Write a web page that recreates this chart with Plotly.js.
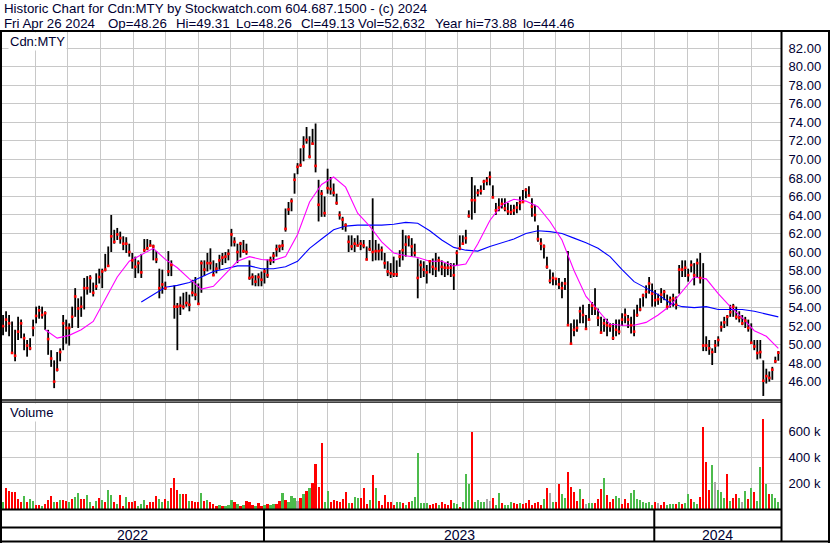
<!DOCTYPE html>
<html><head><meta charset="utf-8">
<script src="https://cdn.plot.ly/plotly-3.0.1.min.js"></script>
<style>html,body{margin:0;padding:0;background:#fff;}#chart{width:830px;height:543px;}</style>
</head><body><div id="chart"></div>
<script>
// ---------- data ----------
const firstBarDate = [2022, 5, 2];
const lastBarDate = [2024, 4, 26];
const high = [53.2,53.6,53.2,52.5,51.6,53.0,52.7,51.2,50.5,50.7,52.7,54.1,54.2,54.1,53.6,51.6,49.4,48.3,49.2,49.6,
53.2,52.7,52.3,54.1,56.1,55.0,55.2,57.2,57.4,57.5,56.7,57.7,58.2,58.2,59.8,60.6,64.0,62.4,62.6,62.2,
61.7,61.6,60.9,59.9,59.5,59.1,
59.8,61.4,61.4,61.3,60.8,60.1,58.2,58.1,56.8,60.1,59.1,56.4,54.5,55.2,55.6,55.7,55.4,57.0,57.3,56.6,
59.1,59.1,59.9,60.4,59.1,58.8,59.7,59.9,60.0,60.3,62.5,61.6,60.9,61.1,61.3,60.9,59.1,57.7,57.5,57.7,57.9,58.2,
59.2,59.5,60.0,60.8,60.8,61.3,64.7,65.4,65.8,68.5,69.6,71.2,72.5,73.5,72.5,73.3,73.88,67.8,66.7,66.0,
69.0,68.1,67.4,66.3,64.4,63.8,63.1,61.8,61.8,61.5,61.8,61.3,61.3,60.6,61.3,65.8,61.3,60.9,60.6,59.9,59.0,58.8,
59.5,59.1,60.2,62.4,61.8,61.8,61.5,60.9,59.3,59.1,59.0,58.6,59.1,59.3,59.9,59.5,59.1,58.8,59.0,58.8,
58.8,60.2,61.8,61.8,62.4,64.5,68.1,67.2,66.8,67.2,67.8,68.1,68.7,67.2,65.3,65.8,65.8,65.8,65.3,65.1,65.1,65.4,66.0,
66.7,66.9,67.1,65.8,65.1,62.9,61.5,60.8,59.5,58.1,57.8,57.2,57.2,56.8,57.2,60.1,52.3,52.7,52.7,54.1,
54.3,53.2,54.4,54.6,56.1,53.9,53.0,52.8,52.8,52.3,52.3,52.7,52.7,53.4,53.9,53.2,53.0,53.8,54.3,55.0,55.5,56.4,57.3,
56.6,55.9,55.5,56.1,55.9,55.4,55.2,55.5,55.2,58.6,59.1,59.1,58.2,59.1,58.8,59.3,59.9,58.8,50.9,50.5,
49.6,50.5,50.9,52.5,53.0,53.2,54.3,54.4,54.1,53.6,53.2,53.0,52.7,52.3,50.5,50.5,50.5,48.3,47.4,47.1,47.6,48.7,49.31];
const low = [51.0,51.4,50.9,49.1,48.2,50.5,50.7,49.4,48.7,49.4,50.9,52.3,52.8,52.8,51.6,48.9,47.6,45.3,47.1,48.2,
49.4,50.1,49.9,51.8,53.0,51.8,53.0,53.8,55.4,55.6,55.2,55.9,56.6,56.1,57.9,58.4,60.0,60.9,61.3,60.9,
60.2,59.9,59.5,58.2,57.2,57.7,
57.2,60.0,60.2,60.6,59.1,58.8,55.0,55.5,55.9,57.4,57.4,52.8,49.4,53.2,53.8,54.1,53.6,55.2,54.8,54.3,
55.6,57.4,57.9,58.1,57.4,57.7,58.1,58.6,58.8,59.1,60.6,60.6,58.8,59.4,59.9,59.7,57.0,56.4,56.3,56.3,56.3,56.6,
57.2,58.6,58.8,59.5,60.0,60.2,62.2,64.0,64.4,66.3,68.4,69.2,69.8,71.7,70.1,71.6,68.6,63.3,63.8,63.8,
66.3,66.2,66.0,65.1,63.5,62.4,62.2,60.0,60.2,60.0,60.6,60.2,60.4,59.1,60.1,59.0,59.1,59.1,59.1,58.2,57.4,57.2,
57.3,57.3,58.4,59.1,59.5,60.6,59.5,59.5,55.0,57.2,57.3,56.6,57.7,57.5,57.3,57.9,57.5,57.3,57.5,57.3,
55.9,58.6,60.2,60.8,60.9,63.7,63.5,64.2,66.0,66.2,66.7,67.2,67.2,65.8,64.0,64.4,64.7,64.4,64.0,64.0,64.0,64.2,64.5,
65.3,65.8,66.0,63.8,63.3,61.1,60.2,59.3,58.2,56.6,56.4,56.4,56.0,55.0,55.9,52.0,50.0,50.9,51.4,52.3,
52.3,51.6,52.6,53.2,53.2,52.0,51.2,51.4,50.9,51.4,50.5,50.9,51.1,52.0,52.3,51.8,51.2,50.9,53.0,53.6,54.1,55.0,55.5,
54.1,54.1,54.3,54.5,54.8,53.8,54.0,54.1,53.8,55.5,57.3,57.3,56.8,57.8,56.4,57.2,56.6,49.3,49.3,48.9,
47.8,49.1,49.8,51.4,51.8,52.0,53.0,53.0,52.7,52.4,52.1,51.8,51.4,50.1,49.4,48.4,48.5,44.46,45.8,46.0,46.2,48.0,48.26];
const close = [52.0,52.7,52.3,49.1,48.8,51.4,52.3,50.7,49.9,49.6,51.8,53.1,53.7,53.2,53.4,50.6,48.5,46.0,47.3,49.2,
52.3,51.8,51.8,53.0,55.2,53.9,54.1,56.1,56.1,57.2,55.6,56.3,57.3,57.9,58.1,58.5,61.7,61.1,61.9,61.5,
60.9,60.9,60.0,59.1,58.4,58.8,
57.8,60.2,60.4,60.7,60.6,59.2,56.1,56.5,56.1,57.9,58.6,54.1,54.1,54.2,54.1,54.5,54.3,55.6,55.4,54.4,
58.8,58.1,58.8,58.8,57.5,58.2,59.1,59.4,59.5,59.8,61.9,61.1,60.0,60.9,60.1,60.0,57.2,57.3,56.8,57.3,57.0,57.9,
57.5,59.1,59.6,60.3,60.6,60.7,62.5,64.6,65.5,67.8,69.2,69.4,71.4,72.1,70.3,71.7,69.3,65.1,66.3,64.2,
66.9,66.8,66.4,65.3,64.0,63.5,62.9,61.1,60.6,60.9,60.7,60.9,60.7,59.2,60.3,60.0,60.1,60.1,60.2,58.8,57.9,57.7,
57.6,57.6,59.5,60.2,60.8,61.6,60.6,59.9,57.2,58.6,58.1,57.8,59.0,58.4,58.2,59.1,58.4,58.3,58.3,58.3,
57.5,59.9,60.4,60.9,61.5,63.9,65.6,65.6,66.4,66.6,67.6,67.7,68.1,65.9,64.5,64.8,65.2,64.7,64.4,64.3,64.5,64.8,65.3,
65.4,66.7,66.1,64.9,64.0,61.4,60.9,60.6,58.4,56.9,57.2,57.1,56.5,56.1,56.6,52.1,50.1,51.6,51.8,53.6,
53.2,51.7,52.7,54.2,53.9,52.9,51.3,52.3,52.1,52.0,50.7,51.6,51.4,52.7,53.2,52.7,52.1,51.4,53.2,53.8,55.3,55.7,56.6,
55.5,54.8,54.9,55.4,55.7,54.1,54.8,55.0,54.3,58.1,58.1,58.3,57.5,58.6,57.5,58.8,57.2,49.9,49.9,49.6,
49.2,49.9,50.5,51.9,52.4,53.0,53.5,54.1,53.0,52.9,52.3,52.6,51.8,50.2,49.8,49.1,49.2,46.1,46.6,46.4,47.3,48.2,49.13];
const volumeK = [56,164,138,133,133,77,51,100,51,77,62,31,31,23,36,67,103,56,51,69,
69,62,56,77,92,120,77,77,108,51,26,62,87,69,56,144,108,51,36,108,
26,95,51,56,62,26,36,69,31,56,51,103,77,51,77,62,159,236,144,118,
113,113,62,62,51,51,123,62,69,51,36,26,31,26,26,31,69,51,36,26,
31,62,51,31,23,44,26,31,41,31,36,36,62,123,67,51,100,87,62,87,
113,138,159,200,346,169,508,51,138,56,67,62,51,77,133,46,44,95,82,82,
164,36,67,262,164,62,31,108,51,51,31,56,51,44,31,56,62,95,436,44,
44,44,31,36,44,31,51,36,31,67,44,36,18,51,269,197,595,56,67,56,
51,77,62,82,31,123,44,31,31,51,44,36,44,36,44,67,31,44,51,31,
77,159,123,56,56,197,113,87,285,169,133,62,151,77,41,44,44,44,77,154,
241,108,56,77,100,87,36,77,44,123,144,77,67,51,44,51,31,51,44,31,
51,31,36,36,41,51,36,44,113,77,51,36,92,633,364,144,338,205,144,133,
87,272,62,87,113,82,51,138,77,164,128,62,326,692,190,118,113,87,52.632];
// g = close up, r = close down, n = unchanged
const volumeDir = "grrrrrrgrg" + "grrgrrrgrg" + "rrgrggrrgg" + "rgrgrggrgr" + "rgrrrgggrr" +
  "rrggrgrrrg" + "rrgrrrgrgr" + "rrgrgggrgr" + "grrrgrrgrg" + "grrgrgggnr" +
  "grgrrrrggr" + "rrrrrgrggr" + "rrgrgrrrrr" + "rggrgrgggg" + "ggrrrgrrrr" +
  "ggrgggrggg" + "gnnrggrggg" + "rrgrrrrrrr" + "grngrrggrr" + "rrgrnggrrr" +
  "grrrggrrrg" + "gggggggrnr" + "rgggrgrggr" + "ggrrrrgngg" + "grgrrgngrg" + "rggrgrggg";
const maStep = 4;
const maFastStart = 14;
const maFast = [51.6,50.7,51.0,51.6,52.5,54.9,57.3,59.0,59.7,60.4,
59.2,58.3,57.1,56.0,56.3,57.6,59.0,59.5,59.2,59.1,
59.5,61.9,65.4,67.3,68.1,67.0,64.2,62.8,61.1,59.9,
59.6,59.4,59.0,59.0,58.5,58.7,60.9,63.4,65.1,65.7,
65.5,64.9,63.3,61.3,58.0,55.2,53.7,52.2,52.1,52.1,
52.4,53.2,54.2,55.8,57.3,57.1,55.5,54.1,52.9,51.5,
50.9,49.6];
const maSlowStart = 46;
const maSlow = [54.6,55.4,56.2,56.4,56.7,57.3,57.9,58.2,58.5,58.5,
58.2,58.2,58.4,59.0,60.4,61.4,62.4,62.8,62.9,62.9,
62.9,63.0,63.2,63.1,62.3,61.3,60.5,60.2,60.1,60.6,
61.0,61.4,62.0,62.3,62.2,62.0,61.5,61.0,60.4,59.5,
58.1,56.8,56.1,55.4,54.5,54.1,54.0,54.1,53.8,53.8,
53.8,53.6,53.3,53.0];
const volumeTickVals = [200000, 400000, 600000];
const volumeTickText = ['200 k', '400 k', '600 k'];
const years = ['2022', '2023', '2024'];
const headerLine1 = 'Historic Chart for Cdn:MTY by Stockwatch.com 604.687.1500 - (c) 2024';
const headerLine2 = ['Fri Apr 26 2024', 'Op=48.26', 'Hi=49.31', 'Lo=48.26', 'Cl=49.13', 'Vol=52,632', 'Year hi=73.88', 'lo=44.46'];
const symbolLabel = 'Cdn:MTY';
const volumeLabel = 'Volume';

// ---------- build ----------
const W = 830, H = 543;
const FONT = 'Liberation Sans, Arial, sans-serif';
const TXT = '#000033';
const N = high.length;
const t0 = Date.UTC(firstBarDate[0], firstBarDate[1]-1, firstBarDate[2]);
const t1 = Date.UTC(lastBarDate[0], lastBarDate[1]-1, lastBarDate[2]);
const step = (t1 - t0) / (N - 1);
const fmt = t => new Date(t).toISOString().slice(0, 19).replace('T', ' ');
const dates = [];
for (let i = 0; i < N; i++) dates.push(fmt(t0 + i * step));

const xr = ['2022-05-01', '2024-04-28 12:00'];
const px = v => v / W, py = v => 1 - v / H;

const barX = [], barY = [];
for (let i = 0; i < N; i++) { barX.push(dates[i], dates[i], null); barY.push(low[i], high[i], null); }

const colMap = {g: '#4cbb4c', r: '#ff0000', n: '#a8a8a8'};
const volColors = volumeDir.split('').map(c => colMap[c]);
const vol = volumeK.map(v => v * 1000);

const fastX = maFast.map((v, k) => dates[maFastStart + k * maStep]);
const slowX = maSlow.map((v, k) => dates[maSlowStart + k * maStep]);

const traces = [
  {type: 'scatter', mode: 'lines', x: barX, y: barY, xaxis: 'x', yaxis: 'y',
   line: {color: '#000000', width: 1.8}, connectgaps: false, hoverinfo: 'skip'},
  {type: 'scatter', mode: 'lines', x: slowX, y: maSlow, xaxis: 'x', yaxis: 'y',
   line: {color: '#0000ff', width: 1.1}},
  {type: 'scatter', mode: 'lines', x: fastX, y: maFast, xaxis: 'x', yaxis: 'y',
   line: {color: '#ff00ff', width: 1.1}},
  {type: 'scatter', mode: 'markers', x: dates, y: close, xaxis: 'x', yaxis: 'y',
   marker: {symbol: 'square', size: 2.6, color: '#ff0000', line: {width: 0}}},
  {type: 'bar', x: dates, y: vol, xaxis: 'x2', yaxis: 'y2',
   marker: {color: volColors, line: {width: 0}}, width: step * 0.72}
];

const gridC = '#c8c8c8';
const xcommon = {type: 'date', range: xr, showgrid: true, gridcolor: gridC, gridwidth: 1,
  dtick: 'M1', tick0: '2022-05-01', showticklabels: false, ticks: '', zeroline: false,
  showline: false, fixedrange: true, domain: [px(2), px(781)]};

const shapes = [];
function hline(y, x0, x1, w) { shapes.push({type: 'line', xref: 'paper', yref: 'paper', x0: px(x0), x1: px(x1), y0: py(y), y1: py(y), line: {color: '#000', width: w}}); }
function vline(x, y0, y1, w) { shapes.push({type: 'line', xref: 'paper', yref: 'paper', x0: px(x), x1: px(x), y0: py(y0), y1: py(y1), line: {color: '#000', width: w}}); }
hline(31, 0, 830, 2);
vline(1, 31, 543, 2);
vline(781.5, 31, 542, 2);
vline(829, 31, 543, 2);
hline(400, 0, 782, 1.3);
hline(402.2, 0, 782, 1.3);
hline(509.5, 0, 782, 2);
hline(527.5, 0, 782, 2);
hline(541.5, 0, 830, 2);
['2023-01-01', '2024-01-01'].forEach(d => shapes.push({type: 'line', xref: 'x', yref: 'paper', x0: d, x1: d,
  y0: py(509.5), y1: py(541.5), line: {color: '#000', width: 2}}));

const ms = s => new Date(s.replace(' ', 'T') + (s.length <= 10 ? 'T00:00:00Z' : ':00Z')).getTime();
const yb = [ms(xr[0]), Date.UTC(2023,0,1), Date.UTC(2024,0,1), ms(xr[1])];
const annotations = [];
years.forEach((y, k) => annotations.push({xref: 'x', yref: 'paper', x: fmt((yb[k] + yb[k+1]) / 2), y: py(534.5),
  text: y, showarrow: false, xanchor: 'center', yanchor: 'middle', font: {family: FONT, size: 14, color: TXT}}));
const hdrFont = {family: FONT, size: 13.3, color: TXT};
annotations.push({xref: 'paper', yref: 'paper', x: px(2), y: py(9), text: headerLine1, showarrow: false,
  xanchor: 'left', yanchor: 'middle', font: hdrFont});
const fieldX = [2, 106, 174, 234, 299, 356, 433, 521];
headerLine2.forEach((t, k) => annotations.push({xref: 'paper', yref: 'paper', x: px(fieldX[k]), y: py(23), text: t,
  showarrow: false, xanchor: 'left', yanchor: 'middle', font: hdrFont}));
annotations.push({xref: 'paper', yref: 'paper', x: px(8), y: py(41.5), text: symbolLabel, showarrow: false,
  xanchor: 'left', yanchor: 'middle', font: {family: FONT, size: 13, color: TXT}, bgcolor: '#ffffff'});
annotations.push({xref: 'paper', yref: 'paper', x: px(8), y: py(413), text: volumeLabel, showarrow: false,
  xanchor: 'left', yanchor: 'middle', font: {family: FONT, size: 13, color: TXT}, bgcolor: '#ffffff'});

const layout = {
  width: W, height: H, margin: {l: 0, r: 0, t: 0, b: 0, pad: 0},
  paper_bgcolor: '#ffffff', plot_bgcolor: '#ffffff', showlegend: false, hovermode: false,
  font: {family: FONT, size: 13, color: TXT},
  xaxis: Object.assign({}, xcommon, {anchor: 'y'}),
  xaxis2: Object.assign({}, xcommon, {anchor: 'y2', matches: 'x'}),
  yaxis: {domain: [py(400), py(32)], range: [44.02, 83.76], side: 'right', anchor: 'x',
    tick0: 0, dtick: 2, tickformat: '.2f', showgrid: true, gridcolor: gridC, gridwidth: 1,
    ticks: 'outside', ticklen: 4, tickcolor: 'rgba(0,0,0,0)', zeroline: false, showline: false,
    tickfont: {family: FONT, size: 13, color: TXT}, fixedrange: true},
  yaxis2: {domain: [py(509), py(402.5)], range: [0, 823000], side: 'right', anchor: 'x2',
    tickvals: volumeTickVals, ticktext: volumeTickText, showgrid: true, gridcolor: gridC, gridwidth: 1,
    ticks: 'outside', ticklen: 4, tickcolor: 'rgba(0,0,0,0)', zeroline: false, showline: false,
    tickfont: {family: FONT, size: 13, color: TXT}, fixedrange: true},
  shapes: shapes, annotations: annotations, bargap: 0
};
Plotly.newPlot('chart', traces, layout, {staticPlot: true, displayModeBar: false});
</script></body></html>
